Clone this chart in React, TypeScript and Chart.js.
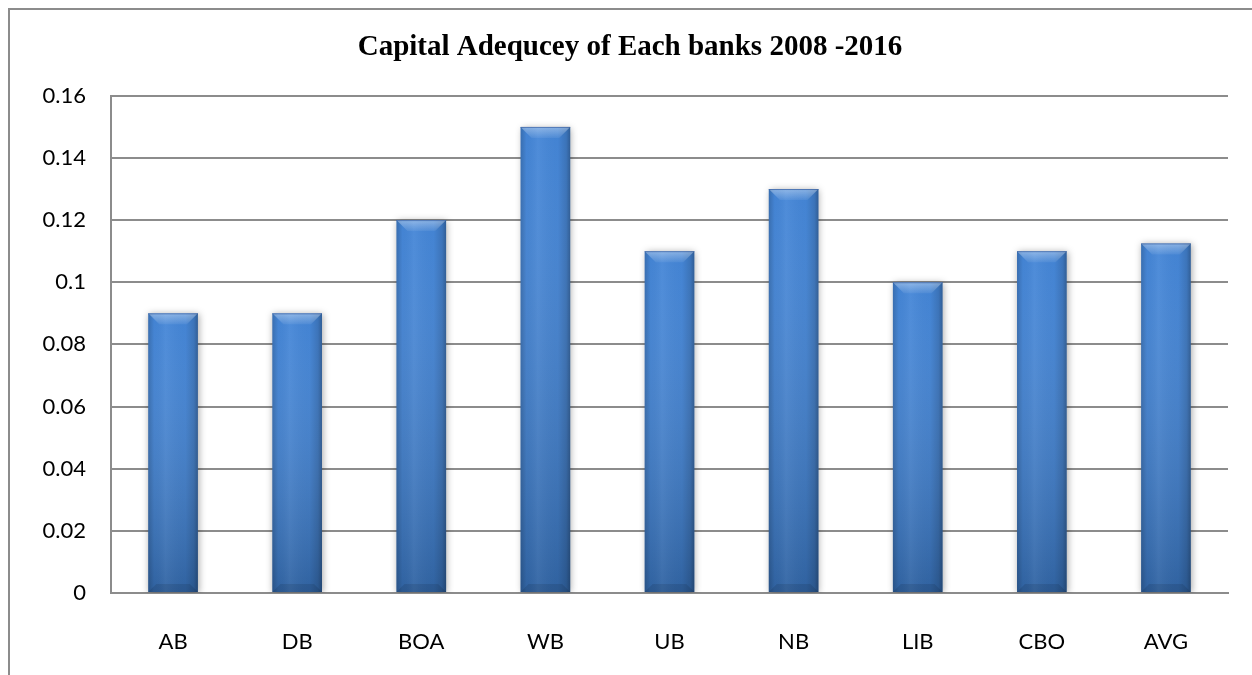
import React, { useEffect, useRef } from "react";
import { Chart, registerables } from "chart.js";

Chart.register(...registerables);

const categories = ["AB", "DB", "BOA", "WB", "UB", "NB", "LIB", "CBO", "AVG"];
const capitalAdequacy = [0.09, 0.09, 0.12, 0.15, 0.11, 0.13, 0.1, 0.11, 0.1125];
const yTickValues = [0, 0.02, 0.04, 0.06, 0.08, 0.1, 0.12, 0.14, 0.16];
const chartTitle = "Capital Adequcey of Each banks 2008 -2016";

const barDecor = {
  id: "barDecor",
  beforeDatasetDraw(chart: any) {
    const ctx = chart.ctx;
    ctx.save();
    ctx.shadowColor = "rgba(0,0,0,0.35)";
    ctx.shadowBlur = 7;
    ctx.shadowOffsetX = 1;
    ctx.shadowOffsetY = 1;
  },
  afterDatasetDraw(chart: any, args: any) {
    const ctx = chart.ctx;
    ctx.restore();
    const meta = chart.getDatasetMeta(args.index);
    meta.data.forEach((el: any) => {
      const { x, y, base, width } = el.getProps(["x", "y", "base", "width"], true);
      const l = x - width / 2;
      const r = x + width / 2;
      const top = Math.min(y, base);
      const bot = Math.max(y, base);
      const h = bot - top;
      ctx.save();
      const vg = ctx.createLinearGradient(0, top, 0, bot);
      vg.addColorStop(0, "rgba(255,255,255,0.02)");
      vg.addColorStop(1, "rgba(0,0,0,0.24)");
      ctx.fillStyle = vg;
      ctx.fillRect(l, top, width, h);
      const hg = ctx.createLinearGradient(l, 0, r, 0);
      hg.addColorStop(0, "rgba(0,0,0,0.18)");
      hg.addColorStop(0.12, "rgba(0,0,0,0.02)");
      hg.addColorStop(0.35, "rgba(255,255,255,0.05)");
      hg.addColorStop(0.75, "rgba(0,0,0,0.02)");
      hg.addColorStop(0.92, "rgba(0,0,0,0.14)");
      hg.addColorStop(1, "rgba(0,0,0,0.3)");
      ctx.fillStyle = hg;
      ctx.fillRect(l, top, width, h);
      const b = 11;
      ctx.beginPath();
      ctx.moveTo(l, top);
      ctx.lineTo(r, top);
      ctx.lineTo(r - b, top + b);
      ctx.lineTo(l + b, top + b);
      ctx.closePath();
      const tg = ctx.createLinearGradient(0, top, 0, top + b);
      tg.addColorStop(0, "rgba(255,255,255,0.38)");
      tg.addColorStop(1, "rgba(255,255,255,0.06)");
      ctx.fillStyle = tg;
      ctx.fill();
      ctx.fillStyle = "rgba(40,80,150,0.6)";
      ctx.fillRect(l, top, width, 1);
      const bb = 8;
      ctx.beginPath();
      ctx.moveTo(l, bot);
      ctx.lineTo(r, bot);
      ctx.lineTo(r - bb, bot - bb);
      ctx.lineTo(l + bb, bot - bb);
      ctx.closePath();
      ctx.fillStyle = "rgba(0,0,0,0.1)";
      ctx.fill();
      ctx.restore();
    });
  },
};

export default function App() {
  const ref = useRef<HTMLCanvasElement>(null);
  useEffect(() => {
    if (!ref.current) return;
    const chart = new Chart(ref.current, {
      type: "bar",
      data: {
        labels: categories,
        datasets: [
          {
            data: capitalAdequacy,
            backgroundColor: "#4083d6",
            borderWidth: 0,
            barPercentage: 0.4,
            categoryPercentage: 1,
          },
        ],
      },
      options: {
        animation: false,
        responsive: false,
        events: [],
        layout: { padding: { left: 22, right: 22, top: 0, bottom: 0 } },
        plugins: {
          legend: { display: false },
          tooltip: { enabled: false },
          title: {
            display: true,
            text: chartTitle,
            color: "#000",
            font: { family: "'Liberation Serif', 'Times New Roman', serif", size: 29, weight: "bold" },
            padding: { top: 20, bottom: 31 },
          },
        },
        scales: {
          x: {
            grid: { display: false },
            border: { display: true, color: "#8c8c8c", width: 2 },
            ticks: {
              color: "#000",
              padding: 28,
              font: { family: "Lato, 'Open Sans', sans-serif", size: 22 },
            },
            afterFit: (s: any) => {
              s.height = 82;
            },
          },
          y: {
            min: 0,
            max: 0.16,
            afterBuildTicks: (s: any) => {
              s.ticks = yTickValues.map((v) => ({ value: v }));
            },
            grid: { color: "#8c8c8c", lineWidth: 2, drawTicks: false },
            border: { display: true, color: "#8c8c8c", width: 2 },
            ticks: {
              color: "#000",
              padding: 25,
              font: { family: "Lato, 'Open Sans', sans-serif", size: 22 },
              callback: (v: any) => String(+Number(v).toFixed(2)),
            },
            afterFit: (s: any) => {
              s.width = 79;
            },
          },
        },
      },
      plugins: [barDecor],
    });
    return () => chart.destroy();
  }, []);
  return (
    <div style={{ position: "fixed", inset: 0, background: "#fff", overflow: "hidden" }}>
      <div
        style={{
          position: "absolute",
          left: 8,
          top: 8,
          width: 1400,
          height: 800,
          borderTop: "2px solid #8c8c8c",
          borderLeft: "2px solid #8c8c8c",
        }}
      />
      <canvas
        ref={ref}
        width={1240}
        height={665}
        style={{ position: "absolute", left: 10, top: 10, width: 1240, height: 665 }}
      />
    </div>
  );
}
